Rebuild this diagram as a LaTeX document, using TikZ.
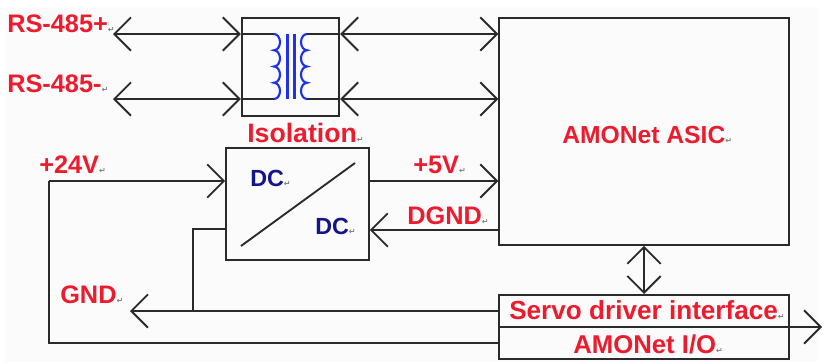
\documentclass[tikz,border=0pt]{standalone}
\usepackage{fontspec}
\setmainfont{Liberation Sans}
\newfontfamily\markfont{DejaVu Sans}
\usetikzlibrary{arrows.meta}
\definecolor{labelred}{HTML}{EC1C2E}
\definecolor{dcblue}{HTML}{14148C}
\definecolor{paper}{HTML}{FBFBFB}
\definecolor{linegray}{HTML}{2A2A2A}
\definecolor{coilblue}{HTML}{2030F0}
\newcommand{\retmark}{{\markfont\fontsize{6}{6}\selectfont\textcolor{gray}{↵}}}
\tikzset{
  >={Straight Barb[length=12.5pt,width=25pt,line width=1.4pt]},
  wire/.style={draw=linegray,line width=1.4pt},
  block/.style={draw=linegray,line width=1.5pt,inner sep=0pt},
  redlabel/.style={text=labelred,font=\bfseries\fontsize{19}{19}\selectfont,anchor=west,inner sep=0pt},
  dclabel/.style={text=dcblue,font=\bfseries\fontsize{17.5}{17.5}\selectfont,anchor=west,inner sep=0pt},
  coil/.style={draw=coilblue,line width=1.6pt}
}
\begin{document}
\begin{tikzpicture}[x=0.75pt,y=-0.75pt]
  \useasboundingbox (0,0) rectangle (823,362);
  \fill[white] (0,0) rectangle (823,362);
  \fill[paper] (5,7) rectangle (818,362);

  % Blocks
  \node[block,minimum width=73pt,minimum height=73.5pt] (iso) at (290.5,67) {};
  \node[block,minimum width=107pt,minimum height=84pt] (dc) at (297.5,204) {};
  \node[block,minimum width=217pt,minimum height=170pt] (asic) at (644,131.5) {};
  \node[block,minimum width=217pt,minimum height=24pt] (servo) at (644,311) {};
  \node[block,minimum width=217pt,minimum height=24pt] (amoio) at (644,343) {};

  % End points
  \coordinate (rsp) at (113,34);
  \coordinate (rsm) at (113,99);
  \coordinate (supply) at (49,181);
  \coordinate (gnd) at (130,311);
  \coordinate (tap) at (193,311);
  \coordinate (out) at (822,327);

  % RS-485 lines through the isolation block
  \draw[wire,<->] (rsp) -- (rsp -| iso.west);
  \draw[wire,<->] (rsm) -- (rsm -| iso.west);
  \draw[wire,<->] (rsp -| iso.east) -- (rsp -| asic.west);
  \draw[wire,<->] (rsm -| iso.east) -- (rsm -| asic.west);

  % Transformer
  \draw[wire] (rsp -| iso.west) -- (274,34);
  \draw[wire] (rsm -| iso.west) -- (274,99);
  \draw[wire] (rsp -| iso.east) -- (307,34);
  \draw[wire] (rsm -| iso.east) -- (307,99);
  \draw[coil] (274,34) arc (-90:90:6 and 8.125) arc (-90:90:6 and 8.125) arc (-90:90:6 and 8.125) arc (-90:90:6 and 8.125);
  \draw[coil] (307,34) arc (270:90:6 and 8.125) arc (270:90:6 and 8.125) arc (270:90:6 and 8.125) arc (270:90:6 and 8.125);
  \draw[coil] (287.5,34) -- (287.5,99);
  \draw[coil] (294.5,34) -- (294.5,99);

  % DC/DC supply
  \draw[wire,->] (supply) -- (supply -| dc.west);
  \draw[wire] (supply) |- (amoio.west);
  \draw[wire,->] (dc.east |- supply) -- (asic.west |- supply);
  \draw[wire,->] (asic.west |- 0,230) -- (dc.east |- 0,230);
  \draw[wire] (241,246) -- (355,163);

  % Ground and bus
  \draw[wire,->] (servo.west) -- (gnd);
  \draw[wire] (tap) |- (dc.west |- 0,229);
  \draw[wire,<->] (asic.south) -- (servo.north);
  \draw[wire,->] (out -| servo.east) -- (out);

  % Labels
  \node[redlabel] (lrsp) at (7,24) {RS-485+\retmark};
  \node[redlabel] (lrsm) at (7,84) {RS-485-\retmark};
  \node[redlabel,font=\bfseries\fontsize{20}{20}\selectfont] (liso) at (247,133) {Isolation\retmark};
  \node[redlabel] (l24) at (39,165) {+24V\retmark};
  \node[redlabel] (lgnd) at (60,295) {GND\retmark};
  \node[redlabel] (l5) at (413,165) {+5V\retmark};
  \node[redlabel] (ldgnd) at (407,216) {DGND\retmark};
  \node[redlabel,font=\bfseries\fontsize{18.5}{18.5}\selectfont] (lasic) at (562,135) {AMONet ASIC\retmark};
  \node[redlabel,font=\bfseries\fontsize{19.6}{19.6}\selectfont] (lservo) at (509,310) {Servo driver interface\retmark};
  \node[redlabel,font=\bfseries\fontsize{19.3}{19.3}\selectfont] (lio) at (573,344) {AMONet I/O\retmark};
  \node[dclabel] (ldca) at (250,178) {DC\retmark};
  \node[dclabel] (ldcb) at (315,226) {DC\retmark};
\end{tikzpicture}
\end{document}
